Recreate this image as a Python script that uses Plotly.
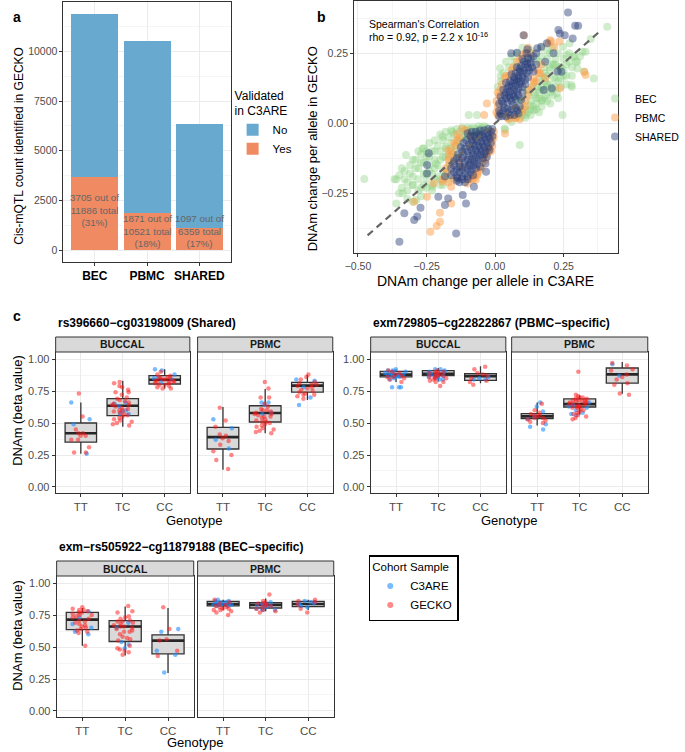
import plotly.graph_objects as go

W, H = 685, 752
FONT = "Liberation Sans, Arial, sans-serif"
INK = "#333333"
GRID = "#EBEBEB"
MINOR = "#F5F5F5"

# ---------------- panel a: cis-mQTL counts ----------------
groups = ["BEC", "PBMC", "SHARED"]
total_qtl = [11886, 10521, 6359]
validated_qtl = [3705, 1871, 1097]

# ---------------- panel b: effect sizes (estimated from the figure) ----------------
bec_pts = [
    (0.409, 0.345), (0.349, 0.301), (0.36, 0.16), (0.33, 0.256), (0.319, 0.256), (0.325, 0.184),
    (0.30, 0.196), (0.28, 0.13), (0.278, 0.137), (0.246, 0.03), (0.295, 0.22), (0.26, 0.244),
    (0.236, 0.202), (0.213, 0.166), (0.189, 0.131), (0.171, 0.083), (0.142, 0.047), (0.112, 0.03),
    (0.083, 0.083), (0.201, 0.071), (0.225, 0.107), (0.248, 0.274), (0.272, 0.286), (0.177, 0.166),
    (0.154, 0.131), (0.118, 0.107), (0.035, -0.018), (0.077, 0.202), (0.284, 0.238), (0.213, 0.21),
    (0.09, -0.077), (0.036, -0.024), (0.018, 0.197), (0.05, 0.02), (0.08, 0.025), (0.10, 0.03),
    (0.12, 0.04), (0.14, 0.06), (0.13, 0.08), (0.15, 0.09), (0.16, 0.11), (0.17, 0.13),
    (0.18, 0.15), (0.19, 0.17), (0.20, 0.19), (0.21, 0.21), (0.22, 0.23), (0.11, 0.05),
    (0.125, 0.065), (0.145, 0.10), (0.165, 0.12), (0.185, 0.10), (0.20, 0.14), (0.22, 0.16),
    (0.24, 0.20), (0.26, 0.21), (0.28, 0.20), (0.30, 0.22), (0.31, 0.24), (0.12, 0.12),
    (0.14, 0.14), (0.16, 0.16), (0.18, 0.20), (0.19, 0.23), (0.20, 0.25), (0.17, 0.24),
    (0.15, 0.23), (0.13, 0.26), (0.02, 0.15), (0.03, 0.18), (0.05, 0.20), (0.07, 0.22),
    (0.10, 0.08), (0.09, 0.05), (0.17, 0.06), (0.19, 0.08), (0.21, 0.12), (0.23, 0.15),
    (0.25, 0.17), (0.27, 0.25), (0.06, 0.005), (0.23, 0.09), (0.26, 0.14), (0.16, 0.04),
    (0.09, 0.02), (0.11, 0.02), (0.13, 0.03), (0.15, 0.05), (0.17, 0.08), (0.18, 0.09),
    (0.20, 0.11), (0.21, 0.10), (0.22, 0.13), (0.24, 0.16), (0.25, 0.19), (0.27, 0.22),
    (0.29, 0.24), (0.24, 0.13), (0.26, 0.17), (0.28, 0.17), (0.15, 0.07), (0.16, 0.09),
    (0.13, 0.05), (0.14, 0.11), (0.18, 0.12), (0.19, 0.14), (0.23, 0.19), (0.25, 0.23),
    (0.23, 0.25), (0.21, 0.27), (0.19, 0.26), (0.17, 0.27), (0.16, 0.22), (0.18, 0.18),
    (0.20, 0.20), (0.22, 0.21), (0.12, 0.23), (0.04, 0.22), (0.06, 0.24), (0.08, 0.25),
    (0.10, 0.27), (0.01, 0.13), (0.02, 0.17),
    (-0.096, 0.03), (-0.066, 0.03),
    (-0.477, -0.199), (-0.367, -0.20), (-0.325, -0.113), (-0.264, -0.09), (-0.337, -0.25),
    (-0.36, -0.286), (-0.30, -0.22), (-0.252, -0.18), (-0.216, -0.143), (-0.192, -0.048),
    (-0.156, -0.03), (-0.18, -0.083), (-0.228, -0.226), (-0.288, -0.274), (-0.349, -0.185),
    (-0.03, -0.015), (-0.05, -0.015), (-0.07, -0.02), (-0.09, -0.02), (-0.11, -0.025),
    (-0.13, -0.03), (-0.15, -0.04), (-0.17, -0.05), (-0.19, -0.06), (-0.21, -0.08),
    (-0.23, -0.10), (-0.25, -0.12), (-0.27, -0.14), (-0.29, -0.16), (-0.31, -0.18),
    (-0.33, -0.20), (-0.20, -0.10), (-0.22, -0.13), (-0.24, -0.15), (-0.26, -0.18),
    (-0.28, -0.20), (-0.30, -0.22), (-0.32, -0.24), (-0.18, -0.09), (-0.16, -0.07),
    (-0.14, -0.06), (-0.19, -0.12), (-0.21, -0.15), (-0.23, -0.18), (-0.25, -0.20),
    (-0.27, -0.23), (-0.17, -0.15), (-0.19, -0.17), (-0.21, -0.19), (-0.23, -0.22),
    (-0.15, -0.12), (-0.12, -0.05), (-0.10, -0.05), (-0.08, -0.04), (-0.06, -0.04),
    (-0.20, -0.04), (-0.24, -0.07), (-0.28, -0.10), (-0.30, -0.13), (-0.34, -0.16),
    (-0.36, -0.20), (-0.35, -0.25), (-0.32, -0.27), (-0.30, -0.28), (-0.27, -0.26),
    (-0.20, -0.22), (-0.17, -0.20),
    (-0.04, -0.01), (-0.06, -0.01), (-0.08, -0.015), (-0.10, -0.015), (-0.12, -0.015),
    (-0.14, -0.02), (-0.16, -0.025), (-0.18, -0.03), (-0.22, -0.06), (-0.26, -0.09),
    (-0.25, -0.10), (-0.27, -0.11), (-0.29, -0.13), (-0.31, -0.15), (-0.33, -0.17),
    (-0.22, -0.10), (-0.24, -0.12), (-0.26, -0.14), (-0.28, -0.16), (-0.30, -0.19),
    (-0.32, -0.21), (-0.34, -0.23), (-0.20, -0.13), (-0.22, -0.16), (-0.24, -0.17),
    (-0.26, -0.22), (-0.28, -0.24), (-0.18, -0.12), (-0.16, -0.09), (-0.14, -0.08),
    (-0.13, -0.06), (-0.11, -0.04), (-0.09, -0.035), (-0.07, -0.03), (-0.17, -0.11),
    (-0.15, -0.10), (-0.18, -0.18), (-0.20, -0.20), (-0.22, -0.20), (-0.25, -0.23),
    (-0.23, -0.24), (-0.19, -0.22),
]
pbmc_pts = [
    (0.01, 0.03), (0.01, 0.06), (0.015, 0.10), (0.02, 0.12), (0.035, 0.16), (0.05, 0.17),
    (0.06, 0.19), (0.045, 0.02), (0.075, 0.02), (0.10, 0.04), (0.11, 0.06), (0.12, 0.10),
    (0.135, 0.13), (0.15, 0.15), (0.16, 0.18), (0.11, 0.25), (0.09, 0.23), (0.17, 0.21),
    (0.201, 0.297), (0.195, 0.286), (0.325, 0.184), (0.33, 0.173), (0.236, 0.125), (0.183, 0.161),
    (-0.03, 0.071), (-0.04, 0.03), (0.106, 0.315), (0.071, 0.018), (0.142, 0.148), (0.165, 0.178),
    (0.204, 0.292), (0.234, 0.292), (0.216, 0.274), (0.036, -0.036),
    (0.005, 0.04), (0.005, 0.08), (0.01, 0.11), (0.025, 0.14), (0.04, 0.17), (0.065, 0.20),
    (0.08, 0.22), (0.10, 0.245), (0.05, 0.015), (0.09, 0.015), (0.10, 0.05), (0.11, 0.08),
    (0.125, 0.12), (0.14, 0.16), (0.155, 0.19), (0.13, 0.25), (0.12, 0.27),
    (-0.005, -0.03), (-0.01, -0.06), (-0.02, -0.09), (-0.03, -0.11), (-0.045, -0.14),
    (-0.06, -0.17), (-0.075, -0.19), (-0.09, -0.20), (-0.12, -0.02), (-0.14, -0.04),
    (-0.15, -0.07), (-0.16, -0.10), (-0.17, -0.13), (-0.18, -0.16), (-0.19, -0.20),
    (-0.236, -0.387), (-0.213, -0.367), (-0.201, -0.351), (-0.201, -0.319), (-0.16, -0.286),
    (-0.071, -0.202), (-0.065, -0.185), (-0.16, -0.226), (-0.224, -0.214), (-0.248, -0.262),
    (-0.124, -0.155), (-0.171, -0.095), (-0.136, -0.06), (-0.089, -0.048), (-0.295, -0.28),
    (-0.024, -0.101), (-0.192, -0.208), (-0.132, -0.131), (-0.168, -0.119),
    (-0.005, -0.05), (-0.01, -0.08), (-0.015, -0.10), (-0.035, -0.13), (-0.05, -0.16),
    (-0.065, -0.18), (-0.08, -0.20), (-0.10, -0.215), (-0.105, -0.025), (-0.13, -0.05),
    (-0.145, -0.08), (-0.155, -0.11), (-0.165, -0.145), (-0.175, -0.175), (-0.15, -0.20),
    (-0.17, -0.21),
]
shared_pts = [
    (0.266, 0.396), (0.292, 0.349), (0.303, 0.349), (0.236, 0.321), (0.254, 0.315), (0.283, 0.303),
    (0.231, 0.333), (0.104, 0.315), (0.08, 0.252), (0.059, 0.25), (0.118, 0.265), (0.154, 0.268),
    (0.189, 0.286), (0.213, 0.25), (0.183, 0.22), (0.242, 0.184), (0.228, 0.185), (0.207, 0.125),
    (0.177, 0.119), (0.118, 0.214), (0.168, 0.274),
    (0.015, 0.025), (0.025, 0.025), (0.04, 0.025), (0.055, 0.03), (0.07, 0.03), (0.085, 0.035),
    (0.015, 0.045), (0.03, 0.045), (0.045, 0.05), (0.06, 0.05), (0.075, 0.055), (0.09, 0.06),
    (0.015, 0.07), (0.03, 0.07), (0.045, 0.075), (0.06, 0.08), (0.075, 0.085), (0.095, 0.085),
    (0.02, 0.095), (0.035, 0.10), (0.05, 0.10), (0.065, 0.105), (0.08, 0.11), (0.10, 0.11),
    (0.03, 0.12), (0.045, 0.125), (0.06, 0.13), (0.075, 0.135), (0.09, 0.14), (0.11, 0.14),
    (0.04, 0.145), (0.055, 0.15), (0.07, 0.155), (0.085, 0.16), (0.10, 0.165), (0.12, 0.165),
    (0.06, 0.175), (0.075, 0.18), (0.09, 0.185), (0.105, 0.19), (0.125, 0.19), (0.14, 0.185),
    (0.08, 0.20), (0.095, 0.205), (0.11, 0.21), (0.13, 0.215), (0.10, 0.23), (0.12, 0.235),
    (0.14, 0.24),
    (0.02, 0.035), (0.035, 0.055), (0.05, 0.04), (0.065, 0.065), (0.08, 0.045), (0.025, 0.08),
    (0.04, 0.09), (0.055, 0.09), (0.07, 0.095), (0.085, 0.10), (0.04, 0.11), (0.055, 0.115),
    (0.07, 0.12), (0.085, 0.125), (0.10, 0.13), (0.05, 0.135), (0.065, 0.145), (0.08, 0.15),
    (0.095, 0.15), (0.11, 0.155), (0.07, 0.165), (0.085, 0.17), (0.10, 0.18), (0.115, 0.18),
    (0.09, 0.195), (0.12, 0.20), (0.135, 0.20), (0.105, 0.22), (0.115, 0.25), (0.13, 0.23),
    (0.15, 0.21), (0.15, 0.25),
    (-0.349, -0.423), (-0.142, -0.393), (-0.295, -0.345), (-0.331, -0.321), (-0.284, -0.333),
    (-0.272, -0.301), (-0.183, -0.292), (-0.106, -0.286), (-0.171, -0.268), (-0.118, -0.256),
    (-0.207, -0.262), (-0.077, -0.226), (-0.035, -0.143), (-0.033, -0.173), (-0.248, -0.179),
    (-0.248, -0.149), (-0.242, -0.107), (-0.183, -0.19), (-0.136, -0.196),
    (-0.01, -0.02), (-0.025, -0.02), (-0.04, -0.025), (-0.055, -0.025), (-0.07, -0.03),
    (-0.085, -0.03), (-0.10, -0.035), (-0.01, -0.045), (-0.025, -0.045), (-0.04, -0.05),
    (-0.055, -0.05), (-0.07, -0.055), (-0.085, -0.06), (-0.105, -0.06), (-0.015, -0.07),
    (-0.03, -0.07), (-0.045, -0.075), (-0.06, -0.08), (-0.075, -0.08), (-0.09, -0.085),
    (-0.11, -0.09), (-0.125, -0.085), (-0.02, -0.095), (-0.035, -0.10), (-0.05, -0.10),
    (-0.065, -0.105), (-0.08, -0.11), (-0.095, -0.115), (-0.115, -0.115), (-0.135, -0.11),
    (-0.03, -0.12), (-0.045, -0.125), (-0.06, -0.13), (-0.075, -0.135), (-0.09, -0.14),
    (-0.11, -0.14), (-0.13, -0.14), (-0.15, -0.135), (-0.055, -0.155), (-0.07, -0.16),
    (-0.085, -0.165), (-0.10, -0.165), (-0.12, -0.165), (-0.14, -0.165), (-0.16, -0.16),
    (-0.08, -0.185), (-0.10, -0.19), (-0.12, -0.19), (-0.14, -0.19), (-0.16, -0.185),
    (-0.11, -0.21), (-0.13, -0.21),
    (-0.015, -0.03), (-0.03, -0.035), (-0.045, -0.04), (-0.06, -0.04), (-0.075, -0.045),
    (-0.09, -0.045), (-0.02, -0.055), (-0.035, -0.06), (-0.05, -0.065), (-0.065, -0.065),
    (-0.08, -0.07), (-0.095, -0.075), (-0.115, -0.07), (-0.025, -0.085), (-0.04, -0.085),
    (-0.055, -0.09), (-0.07, -0.095), (-0.085, -0.095), (-0.10, -0.10), (-0.12, -0.10),
    (-0.04, -0.11), (-0.055, -0.115), (-0.07, -0.12), (-0.085, -0.125), (-0.10, -0.13),
    (-0.12, -0.125), (-0.14, -0.125), (-0.065, -0.145), (-0.08, -0.15), (-0.095, -0.15),
    (-0.11, -0.155), (-0.13, -0.155), (-0.15, -0.15), (-0.09, -0.175), (-0.11, -0.18),
    (-0.13, -0.175), (-0.15, -0.175), (-0.12, -0.20), (-0.14, -0.205), (-0.10, -0.20),
]
fit_x = [-0.465, 0.38]
fit_y = [-0.40, 0.327]

# ---------------- panel c: example cis-mQTLs ----------------
genotypes = ["TT", "TC", "CC"]

shared_buccal_box = dict(lo=[0.26, 0.47, 0.77], q1=[0.35, 0.557, 0.805], med=[0.42, 0.635, 0.838],
                         q3=[0.50, 0.69, 0.87], hi=[0.66, 0.83, 0.92])
shared_buccal_c3are = {"TT": [0.66, 0.53, 0.49, 0.26],
                       "TC": [0.66, 0.65, 0.63, 0.60, 0.59, 0.57, 0.57],
                       "CC": [0.92, 0.91, 0.88, 0.86, 0.85, 0.84, 0.82]}
shared_buccal_gecko = {"TT": [0.73, 0.55, 0.45, 0.42, 0.40, 0.40, 0.37, 0.37, 0.31, 0.27, 0.27, 0.42],
                       "TC": [0.82, 0.81, 0.79, 0.78, 0.76, 0.74, 0.74, 0.72, 0.70, 0.69, 0.68, 0.67,
                              0.66, 0.65, 0.64, 0.64, 0.63, 0.62, 0.61, 0.60, 0.60, 0.59, 0.58, 0.57,
                              0.56, 0.55, 0.54, 0.53, 0.52, 0.51, 0.50, 0.49, 0.48],
                       "CC": [0.90, 0.88, 0.87, 0.86, 0.86, 0.85, 0.85, 0.84, 0.84, 0.83, 0.83, 0.83,
                              0.82, 0.82, 0.81, 0.81, 0.80, 0.80, 0.79, 0.78, 0.77, 0.77]}

shared_pbmc_box = dict(lo=[0.135, 0.42, 0.68], q1=[0.297, 0.508, 0.742], med=[0.39, 0.578, 0.792],
                       q3=[0.466, 0.635, 0.818], hi=[0.625, 0.766, 0.877])
shared_pbmc_c3are = {"TT": [0.53, 0.46, 0.37, 0.30],
                     "TC": [0.66, 0.66, 0.64, 0.58, 0.57],
                     "CC": [0.84, 0.83, 0.78, 0.70, 0.64]}
shared_pbmc_gecko = {"TT": [0.62, 0.52, 0.47, 0.41, 0.40, 0.38, 0.36, 0.33, 0.28, 0.25, 0.21, 0.14],
                     "TC": [0.82, 0.77, 0.70, 0.70, 0.65, 0.63, 0.61, 0.60, 0.60, 0.59, 0.58, 0.57,
                            0.57, 0.56, 0.55, 0.55, 0.54, 0.53, 0.52, 0.51, 0.51, 0.50, 0.49, 0.48,
                            0.47, 0.46, 0.45, 0.44, 0.43, 0.42],
                     "CC": [0.88, 0.86, 0.84, 0.82, 0.81, 0.80, 0.80, 0.79, 0.78, 0.77, 0.76, 0.75,
                            0.74, 0.73, 0.72, 0.72, 0.71, 0.69]}

pbmcspec_buccal_box = dict(lo=[0.82, 0.825, 0.81], q1=[0.86, 0.87, 0.833], med=[0.878, 0.885, 0.865],
                           q3=[0.904, 0.909, 0.885], hi=[0.92, 0.93, 0.943])
pbmcspec_buccal_c3are = {"TT": [0.92, 0.91, 0.91, 0.90, 0.90, 0.89, 0.89, 0.88, 0.88, 0.88, 0.87, 0.87,
                                0.87, 0.86, 0.86, 0.85, 0.84, 0.78, 0.78, 0.78],
                         "TC": [0.92, 0.92, 0.91, 0.90, 0.90, 0.89, 0.88, 0.88, 0.87, 0.87, 0.86, 0.86,
                                0.85, 0.84, 0.84],
                         "CC": [0.86, 0.85, 0.84, 0.84]}
pbmcspec_buccal_gecko = {"TT": [0.91, 0.90, 0.89, 0.88, 0.87, 0.86, 0.86, 0.85, 0.84, 0.82],
                         "TC": [0.91, 0.90, 0.90, 0.89, 0.89, 0.88, 0.88, 0.87, 0.87, 0.86, 0.86, 0.85,
                                0.85, 0.84, 0.83, 0.82, 0.82, 0.79],
                         "CC": [0.94, 0.92, 0.89, 0.88, 0.87, 0.85, 0.83, 0.82, 0.80]}

pbmcspec_pbmc_box = dict(lo=[0.48, 0.565, 0.729], q1=[0.534, 0.625, 0.812], med=[0.552, 0.648, 0.88],
                         q3=[0.573, 0.688, 0.93], hi=[0.661, 0.716, 0.977])
pbmcspec_pbmc_c3are = {"TT": [0.66, 0.63, 0.59, 0.55, 0.53, 0.49, 0.47, 0.45],
                       "TC": [0.66, 0.64, 0.63, 0.62, 0.60, 0.58, 0.57, 0.56],
                       "CC": [0.96, 0.87]}
pbmcspec_pbmc_gecko = {"TT": [0.65, 0.60, 0.58, 0.57, 0.56, 0.56, 0.55, 0.54, 0.54, 0.53, 0.52, 0.51, 0.50],
                       "TC": [0.90, 0.72, 0.71, 0.70, 0.70, 0.69, 0.69, 0.68, 0.68, 0.68, 0.67, 0.67,
                              0.66, 0.66, 0.66, 0.65, 0.65, 0.64, 0.64, 0.63, 0.63, 0.62, 0.62, 0.61,
                              0.60, 0.59, 0.58, 0.57, 0.56, 0.55, 0.54, 0.53],
                       "CC": [0.97, 0.95, 0.92, 0.91, 0.88, 0.86, 0.84, 0.81, 0.80, 0.73, 0.72]}

becspec_buccal_box = dict(lo=[0.51, 0.434, 0.296], q1=[0.636, 0.543, 0.447], med=[0.714, 0.66, 0.55],
                          q3=[0.771, 0.706, 0.595], hi=[0.805, 0.816, 0.805])
becspec_buccal_c3are = {"TT": [0.78, 0.73, 0.68, 0.65, 0.62, 0.60],
                        "TC": [0.69, 0.65, 0.54, 0.52, 0.49],
                        "CC": [0.64, 0.62, 0.47, 0.44, 0.30]}
becspec_buccal_gecko = {"TT": [0.81, 0.80, 0.79, 0.79, 0.78, 0.77, 0.77, 0.76, 0.75, 0.75, 0.74, 0.73,
                               0.72, 0.71, 0.70, 0.69, 0.68, 0.67, 0.66, 0.65, 0.64, 0.63, 0.62, 0.61, 0.51],
                        "TC": [0.82, 0.78, 0.77, 0.74, 0.73, 0.72, 0.71, 0.70, 0.70, 0.69, 0.68, 0.67,
                               0.66, 0.66, 0.65, 0.64, 0.63, 0.62, 0.62, 0.60, 0.58, 0.57, 0.56, 0.55,
                               0.51, 0.49, 0.48, 0.47, 0.46, 0.44],
                        "CC": [0.81, 0.64, 0.56, 0.55, 0.47, 0.43]}

becspec_pbmc_box = dict(lo=[0.79, 0.78, 0.79], q1=[0.821, 0.805, 0.816], med=[0.836, 0.829, 0.836],
                        q3=[0.857, 0.847, 0.857], hi=[0.87, 0.88, 0.87])
becspec_pbmc_c3are = {"TT": [0.87, 0.86, 0.86, 0.85, 0.85, 0.85, 0.84, 0.84, 0.84, 0.84, 0.83, 0.83,
                             0.83, 0.82, 0.82],
                      "TC": [0.85, 0.84, 0.84, 0.83, 0.83, 0.82, 0.82, 0.81, 0.80, 0.80, 0.79, 0.79],
                      "CC": [0.86, 0.85, 0.85, 0.84, 0.84, 0.83, 0.82, 0.81]}
becspec_pbmc_gecko = {"TT": [0.87, 0.85, 0.84, 0.83, 0.82, 0.81, 0.81, 0.80, 0.80, 0.79, 0.79, 0.78, 0.77, 0.75],
                      "TC": [0.91, 0.86, 0.85, 0.84, 0.84, 0.83, 0.82, 0.82, 0.81, 0.80, 0.79, 0.78, 0.77],
                      "CC": [0.87, 0.86, 0.85, 0.83, 0.80, 0.77]}

COL_NO, COL_YES = "#67A9CF", "#EF8A62"
COL_BEC = "rgba(140,210,130,0.4)"
COL_PBMC = "rgba(253,160,74,0.5)"
COL_SHARED = "rgba(38,58,118,0.45)"
COL_C3ARE = "rgba(30,144,255,0.6)"
COL_GECKO = "rgba(255,20,20,0.5)"


def dx(a, b):
    return [a / W, b / W]


def dy(top, bottom):
    return [1 - bottom / H, 1 - top / H]


def frame(**kw):
    d = dict(showline=True, mirror=True, linecolor=INK, linewidth=1,
             ticks="outside", ticklen=3, tickcolor=INK, tickwidth=1,
             showgrid=True, gridcolor=GRID, gridwidth=1, zeroline=False,
             tickfont=dict(size=10.5, color="#4D4D4D", family=FONT))
    d.update(kw)
    return d


fig = go.Figure()
annotations = []
shapes = []


def note(text, px, py, size=12, color="black", angle=0, xanchor="center", **kw):
    annotations.append(dict(text=text, x=px / W, y=1 - py / H, xref="paper", yref="paper",
                            showarrow=False, textangle=angle, xanchor=xanchor, yanchor="middle",
                            font=dict(size=size, color=color, family=FONT), **kw))


# ---- a: stacked bars ----
not_validated = [t - v for t, v in zip(total_qtl, validated_qtl)]
fig.add_trace(go.Bar(x=groups, y=validated_qtl, name="Yes", marker_color=COL_YES,
                     marker_line_width=0, width=0.9, xaxis="x", yaxis="y", legend="legend"))
fig.add_trace(go.Bar(x=groups, y=not_validated, name="No", marker_color=COL_NO,
                     marker_line_width=0, width=0.9, xaxis="x", yaxis="y", legend="legend"))
label_pos = [2000, 940, 940]
for g, v, t, yp in zip(groups, validated_qtl, total_qtl, label_pos):
    annotations.append(dict(text=f"{v} out of<br>{t} total<br>({round(100 * v / t)}%)",
                            x=g, y=yp, xref="x", yref="y", showarrow=False,
                            font=dict(size=9.8, color="#666666", family=FONT)))

# ---- b: scatter ----
for pts, col, name in [(bec_pts, COL_BEC, "BEC"), (pbmc_pts, COL_PBMC, "PBMC"),
                       (shared_pts, COL_SHARED, "SHARED")]:
    fig.add_trace(go.Scatter(x=[p[0] for p in pts], y=[p[1] for p in pts], mode="markers",
                             name=name, marker=dict(color=col, size=8, line=dict(width=0)),
                             legend="legend2", xaxis="x2", yaxis="y2"))
fig.add_trace(go.Scatter(x=fit_x, y=fit_y, mode="lines", showlegend=False,
                         line=dict(color="#666666", width=2.2, dash="7px,5px"),
                         xaxis="x2", yaxis="y2"))

# ---- c: box plots ----
panels = [
    (3, shared_buccal_box, shared_buccal_c3are, shared_buccal_gecko),
    (4, shared_pbmc_box, shared_pbmc_c3are, shared_pbmc_gecko),
    (5, pbmcspec_buccal_box, pbmcspec_buccal_c3are, pbmcspec_buccal_gecko),
    (6, pbmcspec_pbmc_box, pbmcspec_pbmc_c3are, pbmcspec_pbmc_gecko),
    (7, becspec_buccal_box, becspec_buccal_c3are, becspec_buccal_gecko),
    (8, becspec_pbmc_box, becspec_pbmc_c3are, becspec_pbmc_gecko),
]
for k, box, c3, gk in panels:
    xa, ya = f"x{k}", f"y{k}"
    fig.add_trace(go.Box(x=genotypes, q1=box["q1"], median=box["med"], q3=box["q3"],
                         lowerfence=box["lo"], upperfence=box["hi"], width=0.75,
                         fillcolor="#D9D9D9", line=dict(color=INK, width=1.3), whiskerwidth=0,
                         boxpoints=False, showlegend=False, hoverinfo="skip", xaxis=xa, yaxis=ya))
    fig.add_trace(go.Box(x=genotypes, q1=box["med"], median=box["med"], q3=box["med"],
                         lowerfence=box["med"], upperfence=box["med"], width=0.75,
                         fillcolor="rgba(0,0,0,0)", line=dict(color="#262626", width=2.6),
                         whiskerwidth=0, boxpoints=False, showlegend=False, hoverinfo="skip",
                         xaxis=xa, yaxis=ya))
    for vals, col in [(c3, COL_C3ARE), (gk, COL_GECKO)]:
        xs = [g for g in genotypes for _ in vals[g]]
        ys = [v for g in genotypes for v in vals[g]]
        fig.add_trace(go.Box(x=xs, y=ys, boxpoints="all", jitter=0.9, pointpos=0, width=0.6,
                             fillcolor="rgba(0,0,0,0)", line=dict(color="rgba(0,0,0,0)", width=0),
                             marker=dict(color=col, size=4.5, line=dict(width=0)),
                             showlegend=False, hoverinfo="skip", xaxis=xa, yaxis=ya))
for col, name in [(COL_C3ARE, "C3ARE"), (COL_GECKO, "GECKO")]:
    fig.add_trace(go.Scatter(x=[None], y=[None], mode="markers", name=name,
                             marker=dict(color=col, size=6), legend="legend3",
                             xaxis="x3", yaxis="y3"))

layout = dict(
    width=W, height=H, margin=dict(l=0, r=0, t=0, b=0),
    paper_bgcolor="white", plot_bgcolor="white",
    font=dict(family=FONT, color="black"),
    barmode="stack", boxmode="overlay",
    xaxis=frame(domain=dx(56, 228), anchor="y", range=[-0.6, 2.6],
                categoryorder="array", categoryarray=groups,
                tickfont=dict(size=12, color="black", family=FONT, weight="bold")),
    yaxis=frame(domain=dy(2, 262), anchor="x", range=[-594, 12480],
                tickvals=[0, 2500, 5000, 7500, 10000], tickformat="d",
                minor=dict(dtick=1250, tick0=0, showgrid=True, gridcolor=MINOR, ticklen=0)),
    xaxis2=frame(domain=dx(355, 626), anchor="y2", range=[-0.514, 0.447],
                 tickvals=[-0.5, -0.25, 0, 0.25], tickformat=".2f",
                 minor=dict(dtick=0.125, tick0=0, showgrid=True, gridcolor=MINOR, ticklen=0)),
    yaxis2=frame(domain=dy(1, 253), anchor="x2", range=[-0.463, 0.437],
                 tickvals=[-0.25, 0, 0.25], tickformat=".2f",
                 minor=dict(dtick=0.125, tick0=0, showgrid=True, gridcolor=MINOR, ticklen=0)),
    legend=dict(x=230 / W, y=1 - 84 / H, xanchor="left", yanchor="top", traceorder="reversed",
                title=dict(text="Validated<br>in C3ARE", font=dict(size=12, family=FONT)),
                font=dict(size=11.5, family=FONT), bgcolor="rgba(0,0,0,0)"),
    legend2=dict(x=603 / W, y=1 - 84 / H, xanchor="left", yanchor="top",
                 font=dict(size=10.5, family=FONT), bgcolor="rgba(0,0,0,0)"),
    legend3=dict(x=370 / W, y=1 - 555 / H, xanchor="left", yanchor="top",
                 title=dict(text="Cohort Sample", font=dict(size=11.5, family=FONT)),
                 font=dict(size=11.5, family=FONT), bgcolor="white",
                 bordercolor="black", borderwidth=1.5),
)

c_panels = {3: ((48, 186), (352, 493)), 4: ((194, 333), (352, 493)),
            5: ((372, 511), (352, 493)), 6: ((517, 657), (352, 493)),
            7: ((49, 190), (576, 717)), 8: ((194, 334), (576, 717))}
for k, ((x0, x1), (y0, y1)) in c_panels.items():
    left = k in (3, 5, 7)
    layout[f"xaxis{k}"] = frame(domain=dx(x0, x1), anchor=f"y{k}", range=[-0.6, 2.6],
                                categoryorder="array", categoryarray=genotypes,
                                tickfont=dict(size=11.5, color="#4D4D4D", family=FONT))
    layout[f"yaxis{k}"] = frame(domain=dy(y0, y1), anchor=f"x{k}", range=[-0.047, 1.055],
                                tickvals=[0, 0.25, 0.5, 0.75, 1], tickformat=".2f",
                                showticklabels=left, ticks="outside" if left else "",
                                tickfont=dict(size=11, color="#4D4D4D", family=FONT),
                                minor=dict(dtick=0.125, tick0=0, showgrid=True, gridcolor=MINOR,
                                           ticklen=0))
    shapes.append(dict(type="rect", xref="paper", yref="paper", x0=x0 / W, x1=x1 / W,
                       y0=1 - y0 / H, y1=1 - (y0 - 15) / H, fillcolor="#D9D9D9",
                       line=dict(color=INK, width=1)))
    note("<b>" + ("BUCCAL" if left else "PBMC") + "</b>", (x0 + x1) / 2, y0 - 7.5,
         size=10.5, color="#1A1A1A")

# titles and labels
note("<b>a</b>", 8, 17, size=14)
note("<b>b</b>", 321, 17, size=14)
note("<b>c</b>", 8, 316, size=14)
note("Cis-mQTL count identified in GECKO", 10, 146, size=12, angle=-90)
note("DNAm change per allele in GECKO", 313, 149, size=13, angle=-90)
note("DNAm change per allele in C3ARE", 490, 281, size=14)
note("Spearman's Correlation", 368, 24, size=10.5, xanchor="left")
note("rho = 0.92, p = 2.2 x 10<sup>-16</sup>", 368, 37, size=10.5, xanchor="left")
note("<b>rs396660\u2212cg03198009 (Shared)</b>", 48, 323, size=12, xanchor="left")
note("<b>exm729805\u2212cg22822867 (PBMC\u2212specific)</b>", 372, 323, size=12, xanchor="left")
note("<b>exm\u2212rs505922\u2212cg11879188 (BEC\u2212specific)</b>", 49, 547, size=12, xanchor="left")
note("DNAm (beta value)", 8, 410, size=13, angle=-90)
note("DNAm (beta value)", 8, 635, size=13, angle=-90)
note("Genotype", 190, 520, size=13)
note("Genotype", 514, 520, size=13)
note("Genotype", 191, 742, size=13)

layout["annotations"] = annotations
layout["shapes"] = shapes
fig.update_layout(**layout)
fig.write_html("out.html", config={"displayModeBar": False},
               post_script="document.body.style.margin='0px';")
